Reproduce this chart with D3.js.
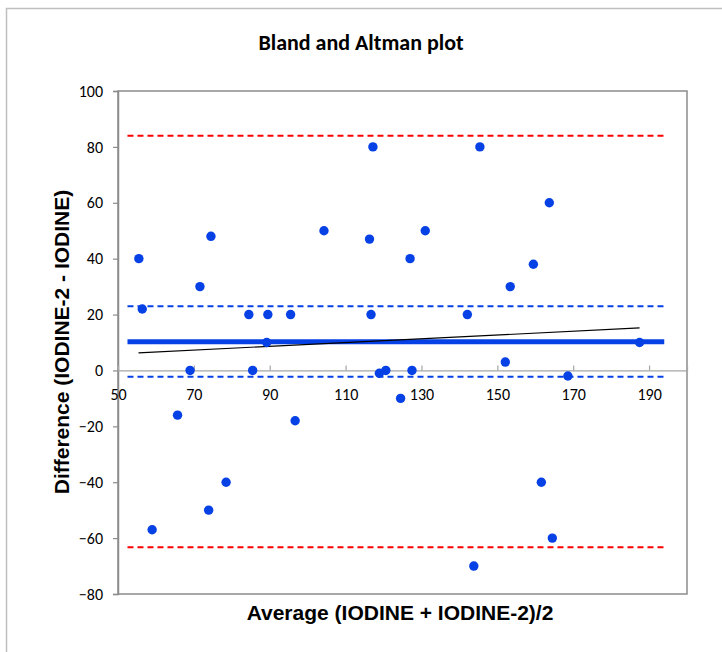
<!DOCTYPE html>
<html><head><meta charset="utf-8">
<script src="https://cdn.jsdelivr.net/npm/d3@7"></script>
<style>body{margin:0;background:#fff}svg{display:block}</style>
</head><body>
<svg id="c" width="722" height="652"></svg>
<script>
// Data
const averages = [55.5,56.4,59.0,65.7,69.0,71.6,73.9,74.5,78.5,84.5,85.5,89.2,89.5,95.5,96.7,104.3,116.3,116.7,117.2,118.9,120.6,124.5,127.0,127.5,131.0,142.1,143.8,145.4,152.1,153.4,159.5,161.6,163.7,164.5,168.6,187.5];
const differences = [40,22,-57,-16,0,30,-50,48,-40,20,0,10,20,20,-18,50,47,20,80,-1,0,-10,40,0,50,20,-70,80,3,30,38,-40,60,-60,-2,10];
const meanDiff = 10.3;
const limitsOfAgreement = [84, -63.3];
const confidenceLimits = [23, -2.3];
const lineExtent = [52.5, 194];
const regressionX = [55.4, 187.5];
const regressionY = [6.3, 15.2];
const xTicks = [50,70,90,110,130,150,170,190];
const yTicks = [100,80,60,40,20,0,-20,-40,-60,-80];

const svg = d3.select('#c');
const L=118, R=687, T=91, B=594;
const x = d3.scaleLinear().domain([50,200]).range([L,R]);
const y = d3.scaleLinear().domain([-80,100]).range([B,T]);
const blue = '#0641E6';
const tickFont = 'Carlito, Calibri, Lato, sans-serif';
const titleFont = 'Liberation Sans, Arial, sans-serif';

// outer chart border
svg.append('rect').attr('x',6.5).attr('y',8.5).attr('width',730).attr('height',660)
  .attr('fill','none').attr('stroke','#bfbfbf').attr('stroke-width',1.5);

// title
svg.append('text').attr('x',361).attr('y',50).attr('text-anchor','middle')
  .attr('font-family',tickFont).attr('font-weight','bold').attr('font-size',22)
  .text('Bland and Altman plot');

// plot area border
svg.append('rect').attr('x',L).attr('y',T).attr('width',R-L).attr('height',B-T)
  .attr('fill','none').attr('stroke','#8c8c8c').attr('stroke-width',1.5);

// y axis
const yAxis = d3.axisLeft(y).tickValues(yTicks).tickSize(5).tickPadding(10).tickFormat(d3.format('d'));
const gy = svg.append('g').attr('transform',`translate(${L},0)`).call(yAxis);
gy.select('.domain').attr('stroke','#8c8c8c').attr('stroke-width',1.5);
gy.selectAll('.tick line').attr('stroke','#8c8c8c').attr('stroke-width',1.2);
gy.selectAll('.tick text').attr('font-family',tickFont).attr('font-size',16).attr('fill','#000');

// x axis at y=0
const xAxis = d3.axisTop(x).tickValues(xTicks).tickSize(5).tickFormat(d3.format('d'));
const gx = svg.append('g').attr('transform',`translate(0,${y(0)})`).call(xAxis);
gx.select('.domain').attr('stroke','#a6a6a6').attr('stroke-width',1.2);
gx.selectAll('.tick line').attr('stroke','#a6a6a6').attr('stroke-width',1.2);
gx.selectAll('.tick text').attr('font-family',tickFont).attr('font-size',16).attr('fill','#000')
  .attr('y',30).attr('dy',0);

// reference lines
function hline(v, color, w, dash){
  svg.append('line').attr('x1',x(lineExtent[0])).attr('x2',x(lineExtent[1]))
    .attr('y1',y(v)).attr('y2',y(v)).attr('stroke',color).attr('stroke-width',w)
    .attr('stroke-dasharray',dash||null);
}
limitsOfAgreement.forEach(v=>hline(v,'#ff0000',2,'6,4'));
confidenceLimits.forEach(v=>hline(v,blue,2,'6,4'));
hline(meanDiff,blue,5,null);

// regression line
svg.append('line').attr('x1',x(regressionX[0])).attr('x2',x(regressionX[1]))
  .attr('y1',y(regressionY[0])).attr('y2',y(regressionY[1]))
  .attr('stroke','#000').attr('stroke-width',1.2);

// points
svg.append('g').selectAll('circle').data(averages.map((a,i)=>[a,differences[i]]))
  .join('circle').attr('cx',d=>x(d[0])).attr('cy',d=>y(d[1])).attr('r',4.7).attr('fill',blue);

// axis titles
svg.append('text').attr('x',400).attr('y',620).attr('text-anchor','middle')
  .attr('font-family',titleFont).attr('font-weight','bold').attr('font-size',21)
  .text('Average (IODINE + IODINE-2)/2');
svg.append('text').attr('transform','translate(69,342) rotate(-90)').attr('text-anchor','middle')
  .attr('font-family',titleFont).attr('font-weight','bold').attr('font-size',21)
  .text('Difference (IODINE-2 - IODINE)');
</script>
</body></html>
